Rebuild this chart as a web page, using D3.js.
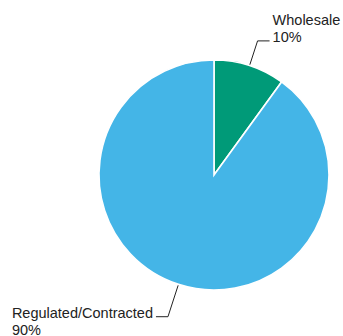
<!DOCTYPE html>
<html>
<head>
<meta charset="utf-8">
<script src="https://cdn.jsdelivr.net/npm/d3@7"></script>
<style>
  body { margin: 0; background: #fff; }
  text { font-family: "Liberation Sans", Arial, sans-serif; font-size: 14.5px; fill: #222; }
</style>
</head>
<body>
<div id="chart"></div>
<script>
var categories = ["Wholesale", "Regulated/Contracted"]
var shares = [10, 90]
var pctLabels = ["10%", "90%"]
var colors = ["#009a78", "#44b5e7"]

var width = 343, height = 336
var cx = 214, cy = 175, radius = 115

var svg = d3.select("#chart")
  .append("svg")
  .attr("width", width)
  .attr("height", height)

var g = svg.append("g")
  .attr("transform", "translate(" + cx + "," + cy + ")")

var pie = d3.pie().sort(null).value(function (d) { return d })
var arcs = pie(shares)

var arc = d3.arc().innerRadius(0).outerRadius(radius)

g.selectAll("path")
  .data(arcs)
  .enter()
  .append("path")
  .attr("d", arc)
  .attr("fill", function (d, i) { return colors[i] })
  .attr("stroke", "#fff")
  .attr("stroke-width", 1.6)

// leader lines + labels
var outerR = [141, 149]
arcs.forEach(function (d, i) {
  var a = (d.startAngle + d.endAngle) / 2
  var x0 = Math.sin(a) * (radius + 1), y0 = -Math.cos(a) * (radius + 1)
  var x1 = Math.sin(a) * outerR[i], y1 = -Math.cos(a) * outerR[i]
  var right = x1 > 0
  var x2 = x1 + (right ? 12 : -12)
  g.append("polyline")
    .attr("points", [[x0, y0], [x1, y1], [x2, y1]].map(function (p) { return p.join(",") }).join(" "))
    .attr("fill", "none")
    .attr("stroke", "#222")
    .attr("stroke-width", 1)
  var t = g.append("text")
    .attr("text-anchor", right ? "start" : "end")
    .attr("x", x2 + (right ? 3 : -3))
  if (right) {
    t.append("tspan").attr("x", x2 + 3).attr("y", y1 - 16).text(categories[i])
    t.append("tspan").attr("x", x2 + 3).attr("y", y1 + 1).text(pctLabels[i])
  } else {
    t.append("tspan").attr("x", x2 - 3).attr("y", y1 + 1).text(categories[i])
    // second line is left-aligned with the first
  }
  if (!right) {
    var bb = t.node().getBBox()
    g.append("text")
      .attr("x", bb.x)
      .attr("y", y1 + 18)
      .text(pctLabels[i])
  }
})
</script>
</body>
</html>
